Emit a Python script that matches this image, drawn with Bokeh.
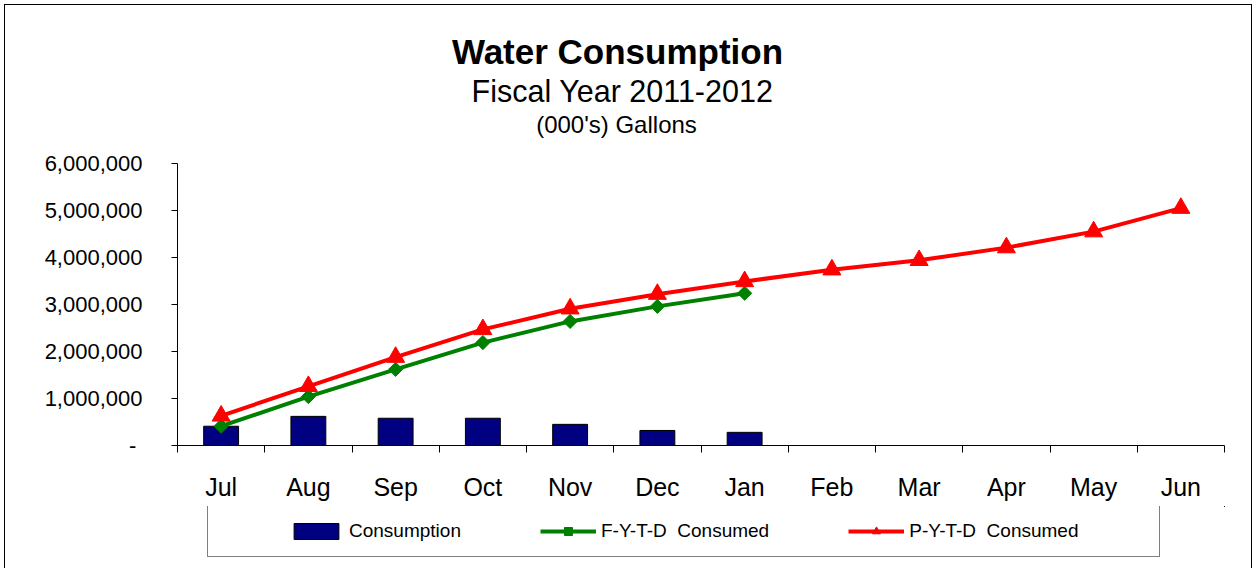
from bokeh.plotting import figure
from bokeh.layouts import column
from bokeh.models import Range1d, FixedTicker, NumeralTickFormatter, Label, Legend, LegendItem
from bokeh.embed import file_html
from bokeh.resources import INLINE
import math

# ---- data ----
months = ["Jul", "Aug", "Sep", "Oct", "Nov", "Dec", "Jan", "Feb", "Mar", "Apr", "May", "Jun"]
consumption = [410000, 620000, 580000, 580000, 450000, 320000, 280000]
fytd_consumed = [410000, 1040000, 1620000, 2190000, 2640000, 2960000, 3240000]
pytd_consumed = [630000, 1260000, 1880000, 2470000, 2910000, 3220000, 3490000,
                 3740000, 3940000, 4210000, 4550000, 5050000]
y_ticks = [0, 1000000, 2000000, 3000000, 4000000, 5000000, 6000000]
title_text = "Water Consumption"
subtitle_text = "Fiscal Year 2011-2012"
unit_text = "(000's) Gallons"
series_names = ["Consumption", "F-Y-T-D  Consumed", "P-Y-T-D  Consumed"]

FONT = "Liberation Sans"
BAR_COLOR, FYTD_COLOR, PYTD_COLOR = "#000080", "#008000", "#FF0000"

# ---- layout (pixels) ----
W = 1246                    # canvas width
H_MAIN, H_LEG = 501, 62     # main chart and legend strip heights
FRAME_L, FRAME_R = 172, 1219
FRAME_B = 440               # frame bottom (y = 0)
Y_TOP_PX = 158              # where the top tick sits
y_end = y_ticks[-1] * FRAME_B / (FRAME_B - Y_TOP_PX)   # frame reaches the canvas top

xc = [i + 0.5 for i in range(len(months))]

p = figure(width=W, height=H_MAIN, output_backend="svg", toolbar_location=None,
           x_range=Range1d(0, len(months)), y_range=Range1d(0, y_end),
           min_border_left=FRAME_L, min_border_right=W - FRAME_R,
           min_border_top=0, min_border_bottom=H_MAIN - FRAME_B,
           background_fill_color="white", border_fill_color="white")
p.title.text = ""
p.outline_line_color = None
p.xgrid.visible = False
p.ygrid.visible = False

# x axis: labels at category centres, ticks at category boundaries
xa = p.xaxis[0]
xa.ticker = FixedTicker(ticks=xc, minor_ticks=list(range(len(months) + 1)))
xa.major_label_overrides = {x: m for x, m in zip(xc, months)}
xa.major_tick_out = 0
xa.major_tick_in = 0
xa.minor_tick_out = 7
xa.minor_tick_in = 0
xa.minor_tick_line_color = "#000000"
xa.axis_line_color = "#000000"
xa.axis_line_width = 1
xa.major_label_text_font = FONT
xa.major_label_text_font_size = "25px"
xa.major_label_text_color = "#000000"
xa.major_label_standoff = 20

# y axis (drawn only from 0 to 6,000,000)
ya = p.yaxis[0]
ya.bounds = (0, y_ticks[-1])
ya.ticker = FixedTicker(ticks=y_ticks, minor_ticks=[])
ya.formatter = NumeralTickFormatter(format="0,0")
ya.major_label_overrides = {0: "-\u00a0"}
ya.major_tick_out = 6
ya.major_tick_in = 0
ya.minor_tick_out = 0
ya.minor_tick_in = 0
ya.major_tick_line_color = "#000000"
ya.axis_line_color = "#000000"
ya.major_label_text_font = FONT
ya.major_label_text_font_size = "22px"
ya.major_label_text_color = "#000000"
ya.major_label_standoff = 29

# series
bar_style = dict(fill_color=BAR_COLOR, line_color="#000000", line_width=1)
g_line_style = dict(line_color=FYTD_COLOR, line_width=4)
g_mark_style = dict(marker="square", angle=math.pi / 4, size=10,
                    fill_color=FYTD_COLOR, line_color=FYTD_COLOR)
r_line_style = dict(line_color=PYTD_COLOR, line_width=4)
r_mark_style = dict(marker="triangle", size=18, fill_color=PYTD_COLOR, line_color=PYTD_COLOR)


def draw_series(fig):
    b = fig.vbar(x=xc[:len(consumption)], top=consumption, bottom=0, width=0.4, **bar_style)
    gl = fig.line(xc[:len(fytd_consumed)], fytd_consumed, **g_line_style)
    gm = fig.scatter(xc[:len(fytd_consumed)], fytd_consumed, **g_mark_style)
    rl = fig.line(xc[:len(pytd_consumed)], pytd_consumed, **r_line_style)
    rm = fig.scatter(xc[:len(pytd_consumed)], pytd_consumed, **r_mark_style)
    return b, gl, gm, rl, rm


draw_series(p)

# titles (screen units: from the frame's bottom-left corner)
for txt, xx, yy, size, style in [(title_text, 440, 394, "35px", "bold"),
                                 (subtitle_text, 445, 355, "30.5px", "normal"),
                                 (unit_text, 439, 321, "24px", "normal")]:
    p.add_layout(Label(x=xx, y=yy, x_units="screen", y_units="screen", text=txt,
                       text_align="center", text_baseline="alphabetic",
                       text_font=FONT, text_font_size=size, text_font_style=style,
                       text_color="#000000"))

# ---- legend strip: same series, viewed through an empty window ----
lg = figure(width=W, height=H_LEG, output_backend="svg", toolbar_location=None,
            x_range=Range1d(-2, -1), y_range=Range1d(-2, -1),
            x_axis_type=None, y_axis_type=None,
            min_border_left=0, min_border_right=0, min_border_top=0, min_border_bottom=0,
            background_fill_color="white", border_fill_color="white")
lg.title.text = ""
lg.outline_line_color = None
lb, lgl, lgm, lrl, lrm = draw_series(lg)

legend = Legend(items=[LegendItem(label=series_names[0], renderers=[lb]),
                       LegendItem(label=series_names[1], renderers=[lgl, lgm]),
                       LegendItem(label=series_names[2], renderers=[lrl, lrm])],
                orientation="horizontal", location=(30, 11), margin=0,
                glyph_width=56, glyph_height=20, label_height=20, label_standoff=5,
                spacing=79, label_text_font=FONT, label_text_font_size="19px",
                label_text_color="#000000", border_line_color="#000000",
                border_line_width=1, background_fill_color="white", background_fill_alpha=1)
try:
    legend.padding = (80, 14)
except Exception:
    legend.padding = 14
lg.add_layout(legend, "center")

layout = column(p, lg, spacing=0)
layout.styles = {"margin-left": "4px", "margin-top": "4px",
                 "border-top": "1px solid #000", "border-left": "1px solid #000",
                 "border-right": "1px solid #000"}

open("out.html", "w").write(file_html(layout, INLINE))
